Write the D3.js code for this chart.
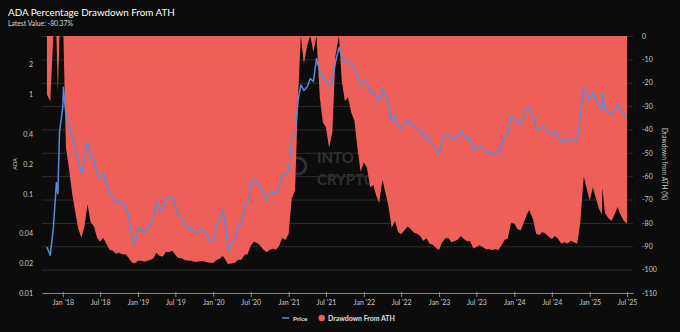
<!DOCTYPE html>
<html><head><meta charset="utf-8">
<script src="https://cdn.jsdelivr.net/npm/d3@7"></script>
<style>
html,body{margin:0;padding:0;background:#0c0c0c;}
svg{display:block;}
text{font-family:Lato,"Open Sans",sans-serif;}
</style></head><body>
<svg id="c" width="680" height="332"></svg>
<script>
const dates = [
 "2017-10-16","2017-11-01","2017-11-16","2017-12-01","2017-12-08","2017-12-16",
 "2018-01-01","2018-01-04","2018-01-16","2018-02-01","2018-02-16","2018-03-01","2018-03-16","2018-04-01","2018-04-16","2018-05-01","2018-05-16","2018-06-01","2018-06-16","2018-07-01","2018-07-16","2018-08-01","2018-08-16","2018-09-01","2018-09-16","2018-10-01","2018-10-16","2018-11-01","2018-11-16","2018-12-01","2018-12-16",
 "2019-01-01","2019-01-16","2019-02-01","2019-02-16","2019-03-01","2019-03-16","2019-04-01","2019-04-16","2019-05-01","2019-05-16","2019-06-01","2019-06-16","2019-07-01","2019-07-16","2019-08-01","2019-08-16","2019-09-01","2019-09-16","2019-10-01","2019-10-16","2019-11-01","2019-11-16","2019-12-01","2019-12-16",
 "2020-01-01","2020-01-16","2020-02-01","2020-02-16","2020-03-01","2020-03-13","2020-03-16","2020-04-01","2020-04-16","2020-05-01","2020-05-16","2020-06-01","2020-06-16","2020-07-01","2020-07-16","2020-08-01","2020-08-16","2020-09-01","2020-09-16","2020-10-01","2020-10-16","2020-11-01","2020-11-16","2020-12-01","2020-12-16",
 "2021-01-01","2021-01-16","2021-02-01","2021-02-16","2021-03-01","2021-03-16","2021-04-01","2021-04-16","2021-05-01","2021-05-16","2021-06-01","2021-06-16","2021-07-01","2021-07-16","2021-08-01","2021-08-16","2021-09-02","2021-09-16","2021-10-01","2021-10-16","2021-11-01","2021-11-16","2021-12-01","2021-12-16",
 "2022-01-01","2022-01-16","2022-02-01","2022-02-16","2022-03-01","2022-03-16","2022-04-01","2022-04-16","2022-05-01","2022-05-16","2022-06-01","2022-06-16","2022-07-01","2022-07-16","2022-08-01","2022-08-16","2022-09-01","2022-09-16","2022-10-01","2022-10-16","2022-11-01","2022-11-16","2022-12-01","2022-12-16",
 "2023-01-01","2023-01-16","2023-02-01","2023-02-16","2023-03-01","2023-03-16","2023-04-01","2023-04-16","2023-05-01","2023-05-16","2023-06-01","2023-06-16","2023-07-01","2023-07-16","2023-08-01","2023-08-16","2023-09-01","2023-09-16","2023-10-01","2023-10-16","2023-11-01","2023-11-16","2023-12-01","2023-12-16",
 "2024-01-01","2024-01-16","2024-02-01","2024-02-16","2024-03-01","2024-03-13","2024-04-01","2024-04-16","2024-05-01","2024-05-16","2024-06-01","2024-06-16","2024-07-01","2024-07-16","2024-08-01","2024-08-16","2024-09-01","2024-09-16","2024-10-01","2024-10-16","2024-11-01","2024-11-16","2024-12-03","2024-12-16",
 "2025-01-01","2025-01-16","2025-02-01","2025-02-16","2025-03-01","2025-03-03","2025-03-16","2025-04-01","2025-04-16","2025-05-01","2025-05-16","2025-06-01","2025-06-16","2025-07-01"
];
const price = [
 0.029,0.024,0.045,0.13,0.10,0.42,
 0.75,1.18,0.62,0.50,0.38,0.30,0.21,0.16,0.22,0.33,0.24,0.22,0.16,0.14,0.16,0.13,0.10,0.095,0.08,0.085,0.078,0.078,0.06,0.038,0.031,
 0.045,0.045,0.040,0.045,0.048,0.057,0.085,0.068,0.066,0.088,0.090,0.095,0.075,0.058,0.058,0.048,0.045,0.045,0.040,0.040,0.044,0.042,0.038,0.034,
 0.033,0.048,0.055,0.068,0.048,0.026,0.029,0.031,0.036,0.050,0.049,0.075,0.078,0.12,0.14,0.135,0.12,0.10,0.087,0.10,0.105,0.10,0.12,0.16,0.15,
 0.18,0.36,0.40,0.88,1.25,1.10,1.20,1.45,1.35,2.30,1.70,1.45,1.40,1.20,1.35,2.10,2.98,2.40,2.15,2.20,2.00,1.90,1.55,1.25,
 1.37,1.30,1.05,1.08,0.95,0.85,1.15,0.98,0.80,0.53,0.62,0.48,0.45,0.50,0.55,0.52,0.47,0.46,0.43,0.37,0.40,0.33,0.32,0.28,
 0.25,0.35,0.40,0.40,0.35,0.36,0.38,0.43,0.39,0.36,0.36,0.27,0.29,0.31,0.29,0.26,0.26,0.25,0.26,0.25,0.32,0.38,0.40,0.60,
 0.59,0.52,0.50,0.60,0.70,0.76,0.64,0.46,0.44,0.48,0.46,0.42,0.39,0.43,0.39,0.33,0.35,0.33,0.37,0.35,0.33,0.60,1.19,1.05,
 0.88,1.05,0.90,0.77,0.70,1.05,0.72,0.66,0.62,0.70,0.80,0.69,0.62,0.585
];
const drawdown = [
 -25,-28,0,0,-24,0,
 0,0,-47.5,-57.6,-67.8,-74.6,-82.2,-86.4,-81.4,-72.0,-79.7,-81.4,-86.4,-88.1,-86.4,-89.0,-91.5,-91.9,-93.2,-92.8,-93.4,-93.4,-94.9,-96.8,-97.4,
 -96.2,-96.2,-96.6,-96.2,-95.9,-95.2,-92.8,-94.2,-94.4,-92.5,-92.4,-91.9,-93.6,-95.1,-95.1,-95.9,-96.2,-96.2,-96.6,-96.6,-96.3,-96.4,-96.8,-97.1,
 -97.2,-95.9,-95.3,-94.2,-95.9,-97.8,-97.5,-97.4,-96.9,-95.8,-95.8,-93.6,-93.4,-89.8,-88.1,-88.6,-89.8,-91.5,-92.6,-91.5,-91.1,-91.5,-89.8,-86.4,-87.3,
 -84.7,-69.5,-66.1,-25.4,0,-12,-4,0,-6.9,0,-26.1,-37,-39.1,-47.8,-41.3,-8.7,0,-19.5,-27.9,-26.2,-32.9,-36.2,-48,-58.1,
 -54.0,-56.4,-64.8,-63.8,-68.1,-71.5,-61.4,-67.1,-73.2,-82.2,-79.2,-83.9,-84.9,-83.2,-81.5,-82.6,-84.2,-84.6,-85.6,-87.6,-86.6,-88.9,-89.3,-90.6,
 -91.6,-88.3,-86.6,-86.6,-88.3,-87.9,-87.2,-85.6,-86.9,-87.9,-87.9,-90.9,-90.3,-89.6,-90.3,-91.3,-91.3,-91.6,-91.3,-91.6,-89.3,-87.2,-86.6,-79.9,
 -80.2,-82.6,-83.2,-79.9,-76.5,-74.5,-78.5,-84.6,-85.2,-83.9,-84.6,-85.9,-86.9,-85.6,-86.9,-88.9,-88.3,-88.9,-87.6,-88.3,-88.9,-79.9,-60.1,-64.8,
 -70.5,-64.8,-69.8,-74.2,-76.5,-64.8,-75.8,-77.9,-79.2,-76.5,-73.2,-76.8,-79.2,-80.37
];
const priceTicks = [0.01,0.02,0.04,0.1,0.2,0.4,1,2];
const drawdownTicks = [0,-10,-20,-30,-40,-50,-60,-70,-80,-90,-100,-110];
const titleText = "ADA Percentage Drawdown From ATH";
const subtitleText = "Latest Value: -80.37%";
const seriesNames = ["Price","Drawdown From ATH"];

const C = {bg:"#0c0c0c", red:"#ef5f5a", blue:"#5b8bd6", grid:"#2c2c2c", text:"#c8c8c8"};
const parse = d3.timeParse("%Y-%m-%d");
const data = dates.map((d,i)=>({date:parse(d), p:price[i], dd:drawdown[i]}));
if(price.length!==dates.length||drawdown.length!==dates.length) console.error("length mismatch", dates.length, price.length, drawdown.length);

const svg = d3.select("#c");
svg.append("rect").attr("width",680).attr("height",332).attr("fill",C.bg);

const L=42, R=633, T=36, B=293;
const x = d3.scaleTime().domain([new Date(2017,8,22), new Date(2025,6,30)]).range([L,R]);
const yP = d3.scaleLog().domain([0.01, 3.886]).range([B,T]);
const yD = d3.scaleLinear().domain([-110,0]).range([B,T]);

function fit(sel, w){const n=sel.node();const cur=n.getComputedTextLength();const fs=parseFloat(sel.attr("font-size"));if(cur>0)sel.attr("font-size",fs*w/cur);return sel;}

// watermark (behind the area)
const wm = svg.append("g").attr("fill","#303030");
wm.append("circle").attr("cx",298).attr("cy",166).attr("r",8).attr("fill","none").attr("stroke","#303030").attr("stroke-width",3);
wm.append("text").attr("x",317).attr("y",163).attr("font-size",15).attr("font-weight","bold").text("INTO THE");
wm.append("text").attr("x",317).attr("y",185).attr("font-size",15).attr("font-weight","bold").text("CRYPTOVERSE");

// gridlines
svg.append("g").selectAll("line").data(drawdownTicks.filter(d=>d>-110)).join("line")
  .attr("x1",L).attr("x2",R).attr("y1",d=>yD(d)+0.5).attr("y2",d=>yD(d)+0.5)
  .attr("stroke",C.grid).attr("stroke-width",1);

// drawdown area
svg.append("path").datum(data)
  .attr("d", d3.area().x(d=>x(d.date)).y0(yD(0)).y1(d=>yD(d.dd)))
  .attr("fill",C.red);

// price line
svg.append("path").datum(data)
  .attr("d", d3.line().x(d=>x(d.date)).y(d=>yP(d.p)))
  .attr("fill","none").attr("stroke",C.blue).attr("stroke-width",1.5).attr("stroke-linejoin","round");

// x axis
const xTicks = d3.timeMonth.every(6).range(new Date(2018,0,1), new Date(2025,7,1));
const xa = svg.append("g").attr("transform",`translate(0,${B})`)
  .call(d3.axisBottom(x).tickValues(xTicks).tickFormat(d3.timeFormat("%b '%y")).tickSize(4).tickSizeOuter(0).tickPadding(3));
xa.select(".domain").attr("stroke","#8a8a8a");
xa.selectAll(".tick line").attr("stroke","#8a8a8a").attr("y1",-1);
xa.selectAll("text").attr("fill",C.text).attr("font-size",7).attr("font-family","Lato");

// left axis
const la = svg.append("g").attr("transform",`translate(36,0)`)
  .call(d3.axisLeft(yP).tickValues(priceTicks).tickFormat(d=>String(d)).tickSize(0).tickPadding(3));
la.select(".domain").remove();
la.selectAll("text").attr("fill",C.text).attr("font-size",7).attr("font-family","Lato");

// right axis
const ra = svg.append("g").attr("transform",`translate(639,0)`)
  .call(d3.axisRight(yD).tickValues(drawdownTicks).tickFormat(d=>String(d)).tickSize(0).tickPadding(3));
ra.select(".domain").remove();
ra.selectAll("text").attr("fill",C.text).attr("font-size",7).attr("font-family","Lato");

// titles
fit(svg.append("text").attr("x",8).attr("y",16).attr("fill","#ffffff").attr("font-size",11).text(titleText),167);
fit(svg.append("text").attr("x",8).attr("y",26).attr("fill","#d8d8d8").attr("font-size",6.5).text(subtitleText),65);

// axis titles
fit(svg.append("text").attr("transform","translate(17,164) rotate(-90)").attr("text-anchor","middle")
  .attr("fill",C.text).attr("font-size",7).text("ADA"),12);
fit(svg.append("text").attr("transform","translate(662,164) rotate(90)").attr("text-anchor","middle")
  .attr("fill",C.text).attr("font-size",7).text("Drawdown from ATH (%)"),72);

// legend
const lg = svg.append("g");
lg.append("line").attr("x1",282).attr("x2",289).attr("y1",318).attr("y2",318).attr("stroke",C.blue).attr("stroke-width",1.5);
fit(lg.append("text").attr("x",293).attr("y",320.5).attr("fill","#e0e0e0").attr("font-size",7).attr("font-weight","bold").text(seriesNames[0]),14.5);
lg.append("circle").attr("cx",321.7).attr("cy",318).attr("r",3.2).attr("fill",C.red);
fit(lg.append("text").attr("x",328).attr("y",320.5).attr("fill","#e0e0e0").attr("font-size",7).attr("font-weight","bold").text(seriesNames[1]),67);
</script>
</body></html>
